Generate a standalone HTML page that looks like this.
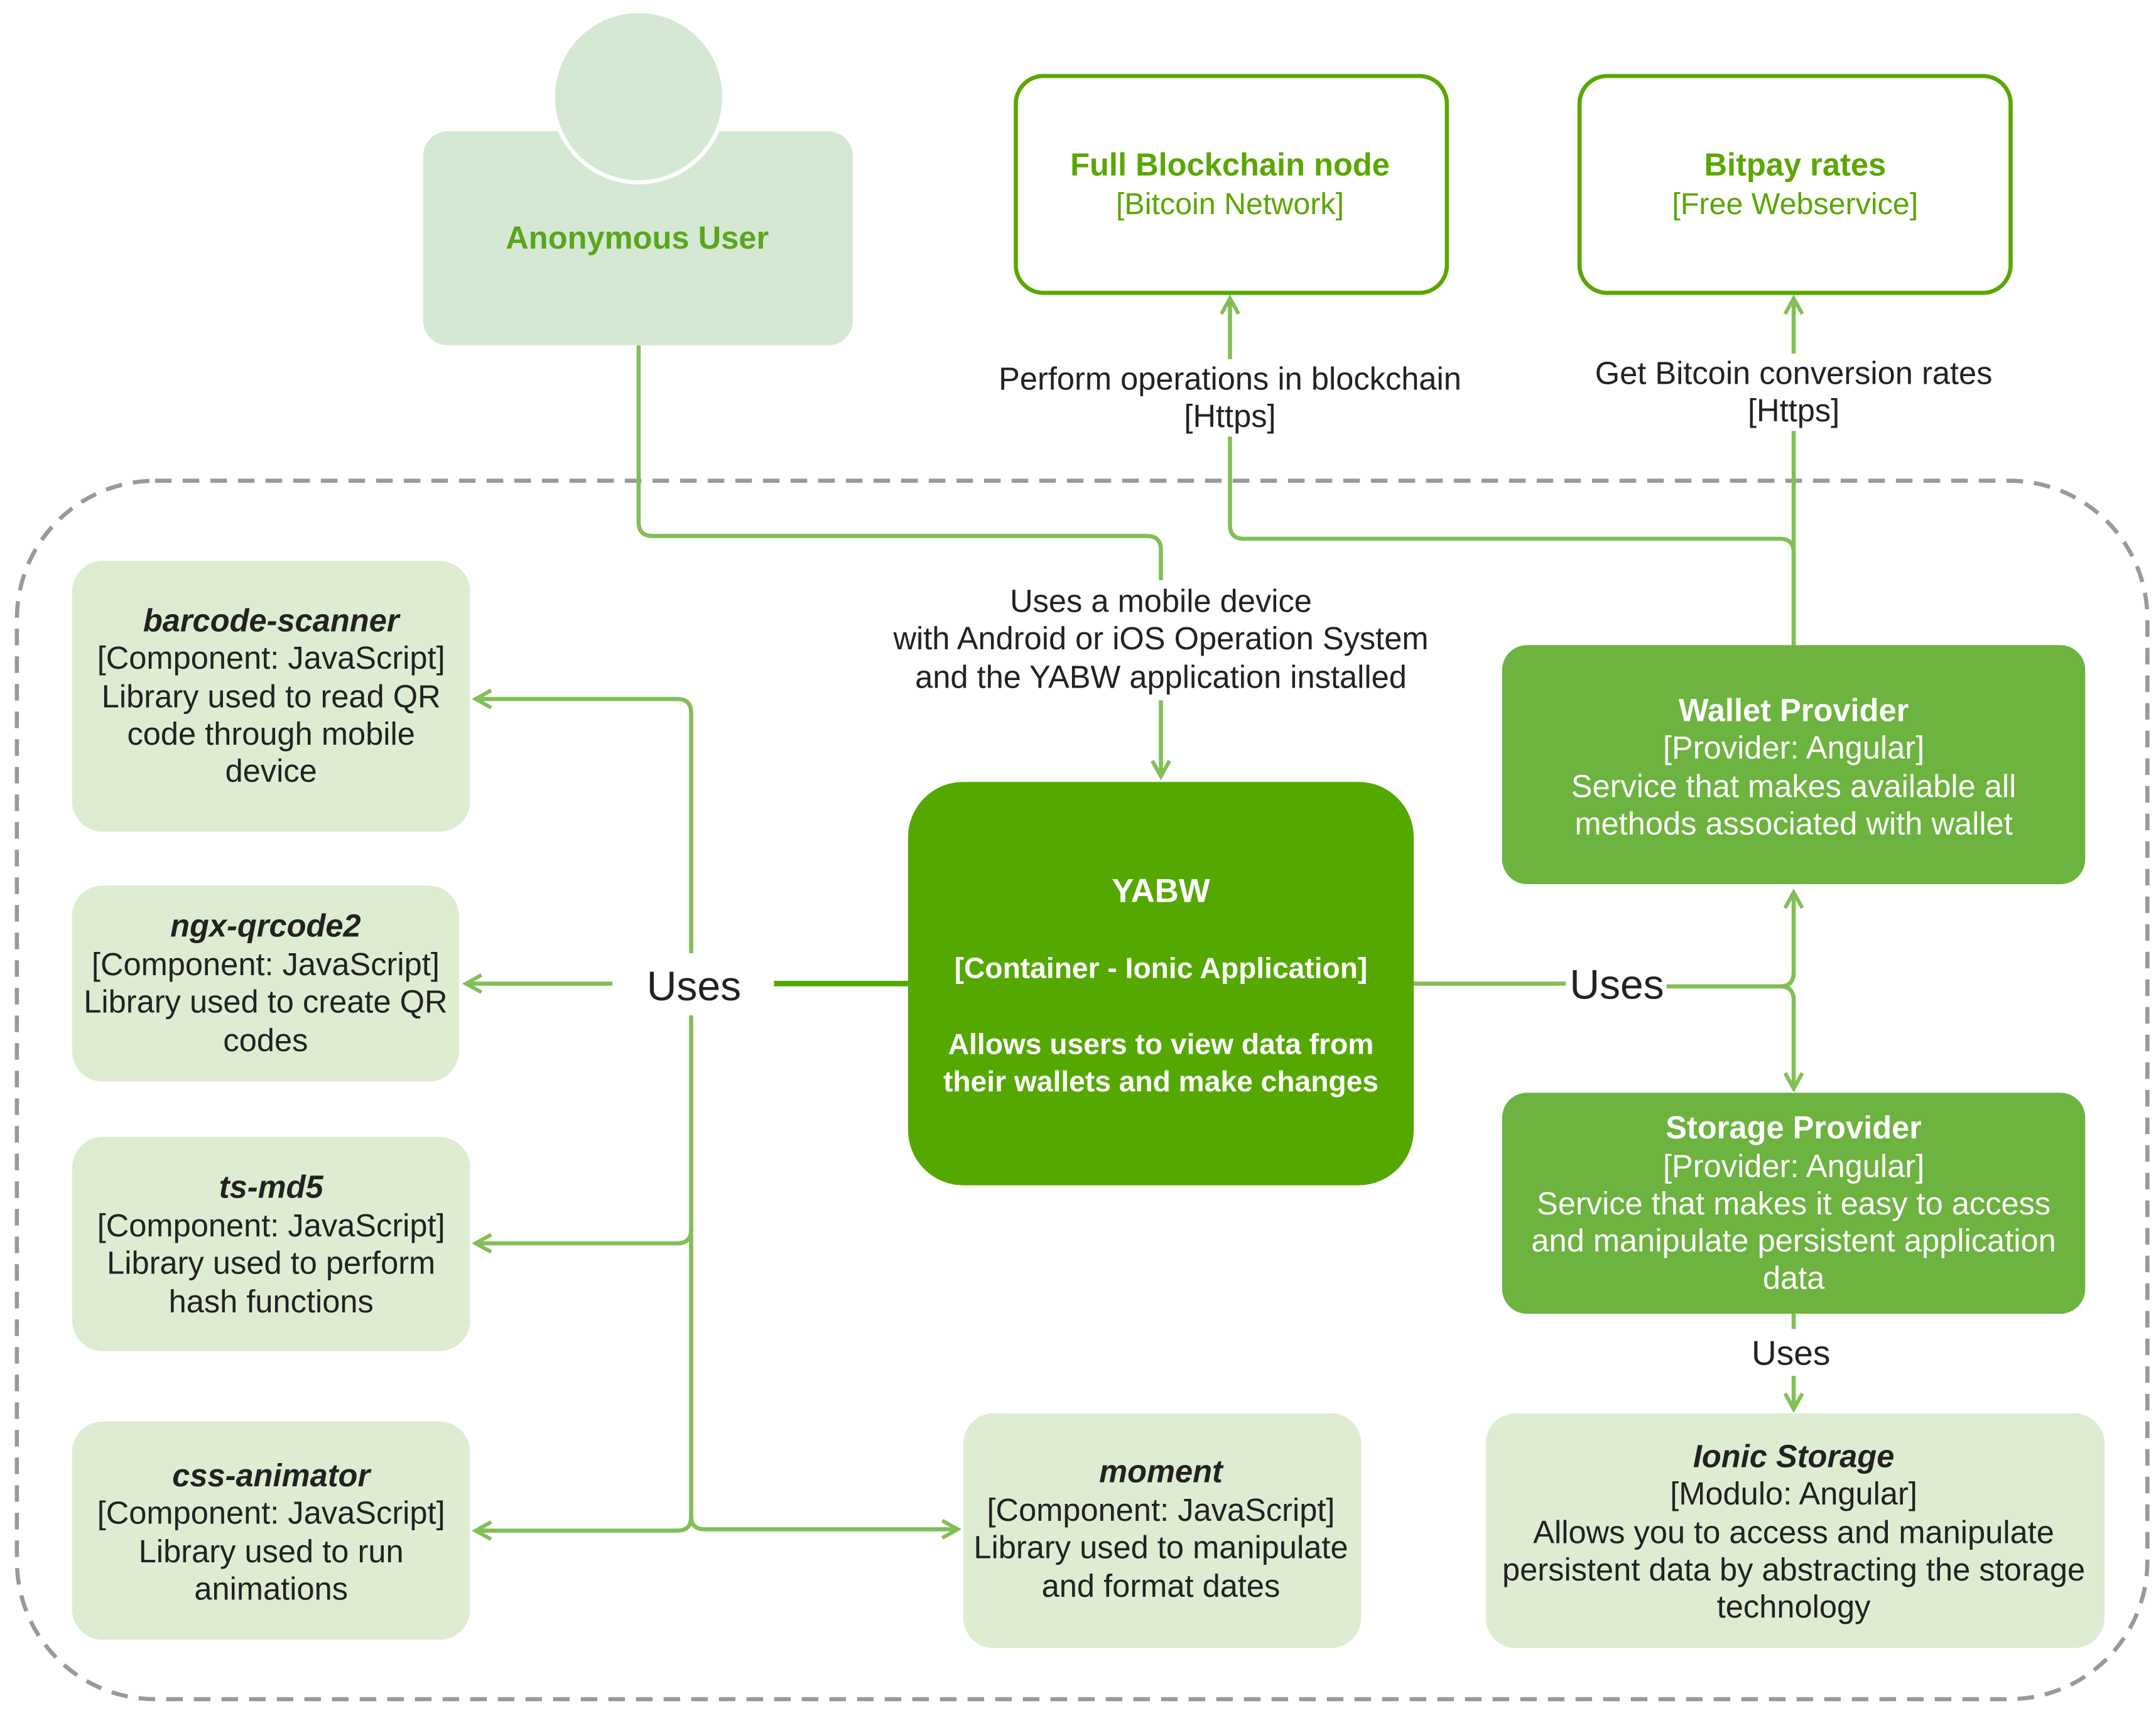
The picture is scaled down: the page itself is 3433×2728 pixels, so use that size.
<!DOCTYPE html>
<html><head><meta charset="utf-8"><style>html,body{margin:0;padding:0;background:#fff}svg{display:block}</style></head>
<body>
<svg xmlns="http://www.w3.org/2000/svg" width="3433" height="2728" viewBox="0 0 1560 1240" font-family="Liberation Sans, sans-serif">
<defs>
<marker id="a" viewBox="0 0 12 12" refX="10" refY="6" markerWidth="5" markerHeight="5" orient="auto" markerUnits="strokeWidth">
<path d="M1,1 L10,6 L1,11" fill="none" stroke="#82bf56" stroke-width="2.2"/>
</marker>
</defs>
<rect width="1560" height="1240" fill="#fff"/>
<rect x="12" y="348" width="1542" height="882" rx="100" fill="none" stroke="#999" stroke-width="3" stroke-dasharray="12,8"/>

<rect x="306" y="95" width="311" height="155" rx="18" fill="#d5e8d4"/>
<circle cx="462" cy="70" r="62" fill="#d5e8d4" stroke="#fff" stroke-width="3"/>
<text x="461" y="180" text-anchor="middle" font-size="23" font-weight="bold" fill="#5aa61c">Anonymous User</text>

<rect x="735" y="55" width="312" height="157" rx="20" fill="#fff" stroke="#5aa700" stroke-width="3"/>
<text x="890" y="127" text-anchor="middle" font-size="23" font-weight="bold" fill="#5aa700">Full Blockchain node</text>
<text x="890" y="155" text-anchor="middle" font-size="22" fill="#5aa700">[Bitcoin Network]</text>
<rect x="1143" y="55" width="312" height="157" rx="20" fill="#fff" stroke="#5aa700" stroke-width="3"/>
<text x="1299" y="127" text-anchor="middle" font-size="23" font-weight="bold" fill="#5aa700">Bitpay rates</text>
<text x="1299" y="155" text-anchor="middle" font-size="22" fill="#5aa700">[Free Webservice]</text>

<g fill="none" stroke="#82bf56" stroke-width="3">
<path d="M462,250 V378 Q462,388 472,388 H830 Q840,388 840,398 V420" />
<path d="M840,507 V562" marker-end="url(#a)"/>
<path d="M1298,467 V400 Q1298,390 1288,390 H900 Q890,390 890,380 V316"/>
<path d="M890,260 V216" marker-end="url(#a)"/>
<path d="M1298,467 V312"/>
<path d="M1298,256 V216" marker-end="url(#a)"/>
<path d="M560,712 H657" stroke="#55a800" stroke-width="4"/>
<path d="M443,712 H337" marker-end="url(#a)"/>
<path d="M500,690 V516 Q500,506 490,506 H344" marker-end="url(#a)"/>
<path d="M500,735 V890 Q500,900 490,900 H344" marker-end="url(#a)"/>
<path d="M500,890 V1098 Q500,1108 490,1108 H344" marker-end="url(#a)"/>
<path d="M500,1098 Q500,1107 510,1107 H693" marker-end="url(#a)"/>
<path d="M1023,712 H1133"/>
<path d="M1206,714 H1288 Q1298,714 1298,704 V646" marker-end="url(#a)"/>
<path d="M1288,714 Q1298,714 1298,724 V788" marker-end="url(#a)"/>
<path d="M1298,951 V962"/>
<path d="M1298,996 V1020" marker-end="url(#a)"/>
</g>

<g font-size="23" fill="#222" text-anchor="middle">
<text x="890" y="282">Perform operations in blockchain</text>
<text x="890" y="309">[Https]</text>
<text x="1298" y="278">Get Bitcoin conversion rates</text>
<text x="1298" y="305">[Https]</text>
<text x="840" y="443">Uses a mobile device</text>
<text x="840" y="470">with Android or iOS Operation System</text>
<text x="840" y="498">and the YABW application installed</text>
<text x="502" y="724" font-size="30">Uses</text>
<text x="1170" y="723" font-size="30">Uses</text>
<text x="1296" y="988" font-size="25">Uses</text>
</g>

<rect x="657" y="566" width="366" height="292" rx="40" fill="#55a800"/>
<g fill="#fff" text-anchor="middle" font-weight="bold">
<text x="840" y="653" font-size="24">YABW</text>
<text x="840" y="708" font-size="21">[Container - Ionic Application]</text>
<text x="840" y="763" font-size="21">Allows users to view data from</text>
<text x="840" y="790" font-size="21">their wallets and make changes</text>
</g>

<rect x="1087" y="467" width="422" height="173" rx="18" fill="#6db33f"/>
<g fill="#fff" text-anchor="middle" font-size="23">
<text x="1298" y="522" font-weight="bold">Wallet Provider</text>
<text x="1298" y="549">[Provider: Angular]</text>
<text x="1298" y="577">Service that makes available all</text>
<text x="1298" y="604">methods associated with wallet</text>
</g>
<rect x="1087" y="791" width="422" height="160" rx="18" fill="#6db33f"/>
<g fill="#fff" text-anchor="middle" font-size="23">
<text x="1298" y="824" font-weight="bold">Storage Provider</text>
<text x="1298" y="852">[Provider: Angular]</text>
<text x="1298" y="879">Service that makes it easy to access</text>
<text x="1298" y="906">and manipulate persistent application</text>
<text x="1298" y="933">data</text>
</g>

<g fill="#deedd2">
<rect x="52" y="406" width="288" height="196" rx="22"/>
<rect x="52" y="641" width="280" height="142" rx="22"/>
<rect x="52" y="823" width="288" height="155" rx="22"/>
<rect x="52" y="1029" width="288" height="158" rx="22"/>
<rect x="697" y="1023" width="288" height="170" rx="22"/>
<rect x="1075" y="1023" width="448" height="170" rx="22"/>
</g>
<g fill="#222" text-anchor="middle" font-size="23">
<text x="196" y="457" font-weight="bold" font-style="italic">barcode-scanner</text>
<text x="196" y="484">[Component: JavaScript]</text>
<text x="196" y="512">Library used to read QR</text>
<text x="196" y="539">code through mobile</text>
<text x="196" y="566">device</text>

<text x="192" y="678" font-weight="bold" font-style="italic">ngx-qrcode2</text>
<text x="192" y="706">[Component: JavaScript]</text>
<text x="192" y="733">Library used to create QR</text>
<text x="192" y="761">codes</text>

<text x="196" y="867" font-weight="bold" font-style="italic">ts-md5</text>
<text x="196" y="895">[Component: JavaScript]</text>
<text x="196" y="922">Library used to perform</text>
<text x="196" y="950">hash functions</text>

<text x="196" y="1076" font-weight="bold" font-style="italic">css-animator</text>
<text x="196" y="1103">[Component: JavaScript]</text>
<text x="196" y="1131">Library used to run</text>
<text x="196" y="1158">animations</text>

<text x="840" y="1073" font-weight="bold" font-style="italic">moment</text>
<text x="840" y="1101">[Component: JavaScript]</text>
<text x="840" y="1128">Library used to manipulate</text>
<text x="840" y="1156">and format dates</text>

<text x="1298" y="1062" font-weight="bold" font-style="italic">Ionic Storage</text>
<text x="1298" y="1089">[Modulo: Angular]</text>
<text x="1298" y="1117">Allows you to access and manipulate</text>
<text x="1298" y="1144">persistent data by abstracting the storage</text>
<text x="1298" y="1171">technology</text>
</g>
</svg>
</body></html>
